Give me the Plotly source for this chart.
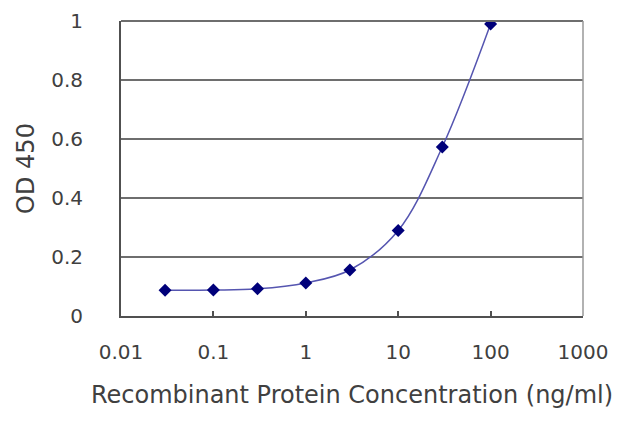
#!/usr/bin/env python3

import plotly.graph_objects as go

# Concentration (ng/ml) and measured OD 450
concentration = [0.03, 0.1, 0.3, 1, 3, 10, 30, 100]
od450 = [0.087, 0.088, 0.092, 0.112, 0.156, 0.29, 0.573, 0.99]

xTickVals = [0.01, 0.1, 1, 10, 100, 1000]
xTickText = ["0.01", "0.1", "1", "10", "100", "1000"]
yTickVals = [0, 0.2, 0.4, 0.6, 0.8, 1]
yTickText = ["0", "0.2", "0.4", "0.6", "0.8", "1"]

FONT = dict(family="DejaVu Sans, sans-serif", size=20, color="#404040")

fig = go.Figure()
fig.add_trace(go.Scatter(
    x=concentration, y=od450,
    mode="lines+markers",
    line=dict(color="#5555b0", width=1.5, shape="spline", smoothing=1.0),
    marker=dict(symbol="diamond", size=10, color="#00007a"),
    showlegend=False,
))

# the page body has an 8px margin, so the margins are shifted to compensate
fig.update_layout(
    width=640, height=427,
    margin=dict(l=113, r=65, t=13, b=119),
    paper_bgcolor="white", plot_bgcolor="white",
    font=FONT,
)

fig.update_xaxes(
    type="log", range=[-2, 3], automargin=False,
    tickvals=xTickVals, ticktext=xTickText,
    showgrid=False, showline=True, linecolor="#505050", linewidth=2,
    ticks="inside", ticklen=5, tickwidth=2, tickcolor="#505050",
    zeroline=False,
    title=dict(text="Recombinant Protein Concentration (ng/ml)", standoff=23),
    ticklabelstandoff=17,
)
fig.update_yaxes(
    range=[0, 1], automargin=False,
    tickvals=yTickVals, ticktext=yTickText,
    showgrid=True, gridcolor="#6e6e6e", gridwidth=2,
    showline=True, linecolor="#505050", linewidth=2,
    ticks="", zeroline=False,
    title=dict(text="OD 450", standoff=10),
    ticklabelstandoff=32,
)

# gray frame on the top and right side of the plot area
fig.add_shape(type="line", xref="paper", yref="paper", x0=0, x1=1, y0=1, y1=1,
              line=dict(color="#6e6e6e", width=2))
fig.add_shape(type="line", xref="paper", yref="paper", x0=1, x1=1, y0=0, y1=1,
              line=dict(color="#999999", width=1.5))

fig.write_html("out.html")
